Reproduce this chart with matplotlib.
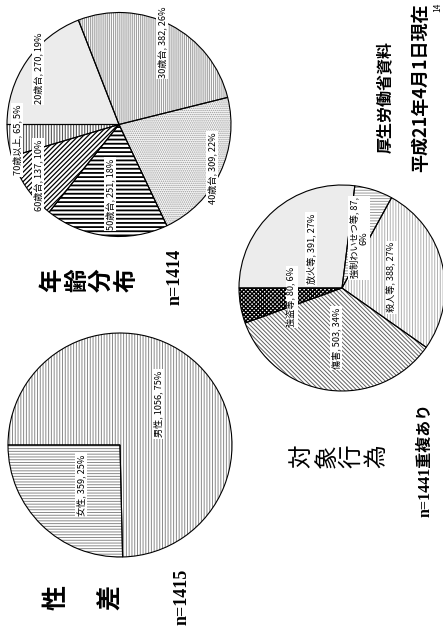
import matplotlib.pyplot as plt

plt.rcParams['font.family'] = ['Noto Sans CJK JP', 'DejaVu Sans']
plt.rcParams['hatch.linewidth'] = 0.7

# 性差
sex_names = ['男性', '女性']
sex_counts = [1056, 359]
sex_pct = [75, 25]

# 年齢分布
age_names = ['20歳台', '30歳台', '40歳台', '50歳台', '60歳台', '70歳以上']
age_counts = [270, 382, 309, 251, 137, 65]
age_pct = [19, 26, 22, 18, 10, 5]

# 対象行為 (重複あり)
act_names = ['放火等', '強制わいせつ等', '殺人等', '傷害', '強盗等']
act_counts = [391, 87, 388, 503, 80]
act_pct = [27, 6, 27, 34, 6]

W, H = 443, 637
fig = plt.figure(figsize=(W / 100, H / 100), dpi=100)
ax = fig.add_axes([0, 0, 1, 1])


def draw_pie(counts, cx, cy, r, faces, hatches, hcolors, hwidths):
    """Hatched wedges first, black outlines on top. cy is measured from the top."""
    center = (cx, H - cy)
    wedges, _ = ax.pie(counts, center=center, radius=r, startangle=180,
                       counterclock=False, frame=True)
    for w, fc, h, hc, hw in zip(wedges, faces, hatches, hcolors, hwidths):
        w.set_facecolor(fc)
        w.set_hatch(h)
        w.set_edgecolor(hc)   # edge colour drives the hatch colour
        w.set_linewidth(0)
        if hasattr(w, 'set_hatch_linewidth'):
            w.set_hatch_linewidth(hw)
    ax.pie(counts, center=center, radius=r, startangle=180, counterclock=False,
           frame=True, wedgeprops=dict(fill=False, edgecolor='black', linewidth=0.8))


def label(x, y, s, size=6.6):
    ax.text(x, H - y, s, rotation=90, ha='center', va='center', fontsize=size,
            multialignment='center', linespacing=1.0, zorder=5,
            bbox=dict(boxstyle='square,pad=0.15', fc='white', ec='none'))


def vtitle(s, x0, y, step, size, weight='normal'):
    # vertical heading: each character turned on its side, laid out left to right
    for i, ch in enumerate(s):
        ax.text(x0 + i * step, H - y, ch, rotation=90, ha='center', va='center',
                fontsize=size, fontweight=weight)


# --- 性差 ---
draw_pie(sex_counts, 120, 445, 112,
         faces=['white', 'white'],
         hatches=['|' * 6, '-' * 6],
         hcolors=['#8a8a8a', '#8a8a8a'],
         hwidths=[0.7, 0.7])
sex_pos = [(158, 404), (81, 485)]
for (x, y), n, c, p in zip(sex_pos, sex_names, sex_counts, sex_pct):
    label(x, y, f'{n}, {c}, {p}%')

# --- 年齢分布 ---
draw_pie(age_counts, 119, 124.5, 112,
         faces=['#ececec', 'white', '#f7f7f7', 'white', 'white', 'white'],
         hatches=['', '|' * 8, '.' * 8, '-' * 4, '/' * 7, '|' * 6],
         hcolors=['#ececec', '#a0a0a0', '#9a9a9a', 'black', 'black', '#555555'],
         hwidths=[0.7, 0.8, 0.7, 1.3, 0.9, 0.8])
age_pos = [(38, 68), (162, 42), (212, 168), (110, 194), (38, 175), (17, 140)]
for (x, y), n, c, p in zip(age_pos, age_names, age_counts, age_pct):
    label(x, y, f'{n}, {c}, {p}%')

# --- 対象行為 ---
draw_pie(act_counts, 342, 288, 103,
         faces=['#ececec', 'white', 'white', 'white', 'white'],
         hatches=['', '-' * 6, '|' * 6, '\\' * 8, 'x' * 8],
         hcolors=['#ececec', '#9a9a9a', '#b0b0b0', '#606060', 'black'],
         hwidths=[0.7, 0.7, 0.7, 0.7, 1.0])
act_pos = [(311, 249), (359, 238), (392, 277), (336, 338), (292, 297)]
for (x, y), n, c, p in zip(act_pos, act_names, act_counts, act_pct):
    text = f'{n}, {c}, {p}%'
    if len(n) > 4:
        text = f'{n}, {c},\n{p}%'
    label(x, y, text)

# headings
vtitle('性差', 57, 597, 53, 18, 'bold')
vtitle('年齢分布', 52, 280, 25, 17, 'bold')
vtitle('対象行為', 302, 456, 25, 17)

serif_bold = dict(family=['Liberation Serif', 'Noto Sans CJK JP'], fontweight='bold',
                  rotation=90, ha='center', va='center')
ax.text(182, H - 597, 'n=1415', fontsize=13, **serif_bold)
ax.text(175, H - 277, 'n=1414', fontsize=13, **serif_bold)
ax.text(426, H - 460, 'n=1441重複あり', fontsize=11.5, **serif_bold)

ax.text(385, H - 97, '厚生労働省資料', fontsize=11.5, fontweight='bold',
        rotation=90, ha='center', va='center')
ax.text(421, H - 88, '平成21年4月1日現在', fontsize=13, fontweight='bold',
        rotation=90, ha='center', va='center')
ax.text(438, H - 7, '14', fontsize=6, rotation=90, ha='center', va='center')

ax.set_xlim(0, W)
ax.set_ylim(0, H)
ax.set_aspect('equal')
ax.axis('off')
fig.savefig('out.png', dpi=100, facecolor='white')
